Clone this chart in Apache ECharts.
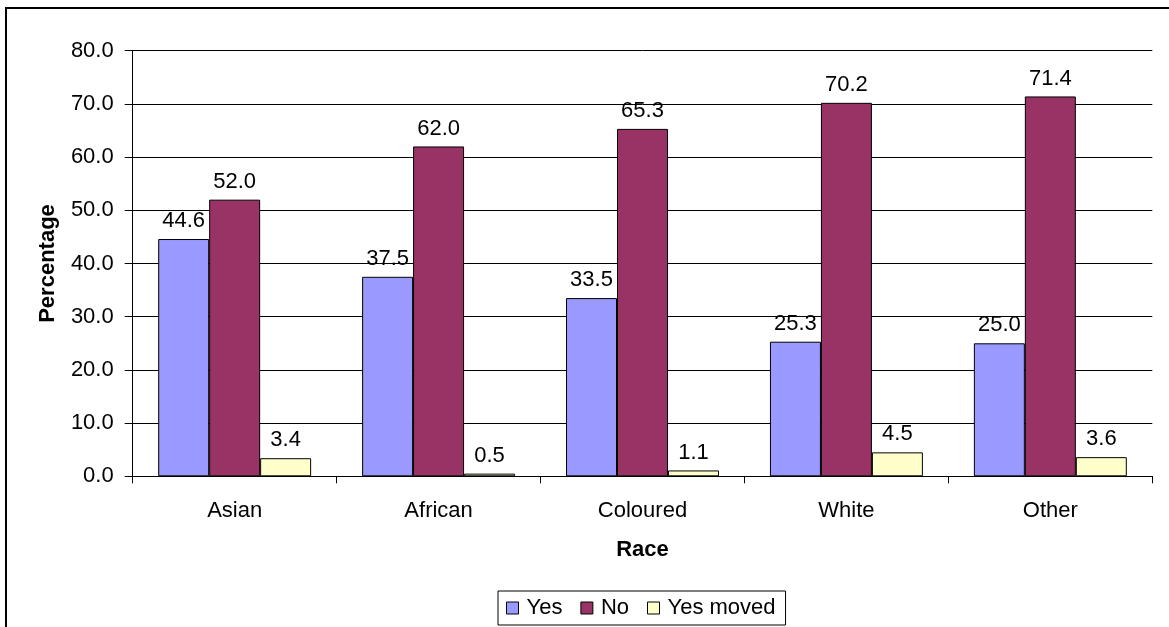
<!DOCTYPE html>
<html>
<head>
<meta charset="utf-8">
<script src="https://cdn.jsdelivr.net/npm/echarts@6/dist/echarts.min.js"></script>
<style>
  html, body { margin: 0; padding: 0; background: #fff; }
  #chart { width: 1169px; height: 627px; }
</style>
</head>
<body>
<div id="chart"></div>
<script>
// Survey responses by race (percentages)
const categories = ['Asian', 'African', 'Coloured', 'White', 'Other'];
const yesValues = [44.6, 37.5, 33.5, 25.3, 25.0];
const noValues = [52.0, 62.0, 65.3, 70.2, 71.4];
const movedValues = [3.4, 0.5, 1.1, 4.5, 3.6];
const seriesNames = ['Yes', 'No', 'Yes moved'];
const yMin = 0, yMax = 80, yStep = 10;

const FONT = '"Liberation Sans", Arial, sans-serif';
const FS = 22;

const chart = echarts.init(document.getElementById('chart'), null, { renderer: 'canvas' });

function barSeries(name, data, color) {
  return {
    name: name,
    type: 'bar',
    data: data,
    barGap: '0%',
    barCategoryGap: '25%',
    itemStyle: { color: color, borderColor: '#000', borderWidth: 1 },
    label: {
      show: true,
      position: 'top',
      distance: 7,
      color: '#000',
      fontFamily: FONT,
      fontSize: FS,
      formatter: p => p.value.toFixed(1)
    },
    emphasis: { disabled: true }
  };
}

chart.setOption({
  animation: false,
  backgroundColor: '#fff',
  textStyle: { fontFamily: FONT },
  graphic: [{
    type: 'rect',
    shape: { x: 6, y: 8, width: 1300, height: 800 },
    style: { fill: null, stroke: '#000', lineWidth: 2 },
    silent: true
  }],
  grid: { left: 132.7, right: 16.7, top: 50.7, bottom: 150.7, containLabel: false },
  legend: {
    data: seriesNames,
    left: 498,
    top: 591,
    orient: 'horizontal',
    padding: [6, 10, 6, 8],
    borderColor: '#000',
    borderWidth: 1,
    itemWidth: 12,
    itemHeight: 12,
    itemGap: 18,
    icon: 'rect',
    itemStyle: { borderColor: '#000', borderWidth: 1 },
    textStyle: { color: '#000', fontFamily: FONT, fontSize: FS, padding: [0, 0, 0, 3] },
    selectedMode: false
  },
  xAxis: {
    type: 'category',
    data: categories,
    name: 'Race',
    nameLocation: 'middle',
    nameGap: 63,
    nameTextStyle: { color: '#000', fontFamily: FONT, fontSize: FS, fontWeight: 'bold' },
    axisLine: { lineStyle: { color: '#000', width: 1 } },
    axisTick: { show: true, length: 7, lineStyle: { color: '#000' }, alignWithLabel: false },
    axisLabel: { color: '#000', fontFamily: FONT, fontSize: FS, margin: 24 },
    splitLine: { show: false }
  },
  yAxis: {
    type: 'value',
    min: yMin,
    max: yMax,
    interval: yStep,
    name: 'Percentage',
    nameLocation: 'middle',
    nameGap: 74,
    nameTextStyle: { color: '#000', fontFamily: FONT, fontSize: FS, fontWeight: 'bold' },
    axisLine: { show: true, lineStyle: { color: '#000', width: 1 } },
    axisTick: { show: true, length: 8, lineStyle: { color: '#000' } },
    axisLabel: { color: '#000', fontFamily: FONT, fontSize: FS, margin: 19, formatter: v => v.toFixed(1) },
    splitLine: { show: true, lineStyle: { color: '#000', width: 1 } }
  },
  series: [
    barSeries(seriesNames[0], yesValues, '#9999FF'),
    barSeries(seriesNames[1], noValues, '#993366'),
    barSeries(seriesNames[2], movedValues, '#FFFFCC')
  ]
});
</script>
</body>
</html>
